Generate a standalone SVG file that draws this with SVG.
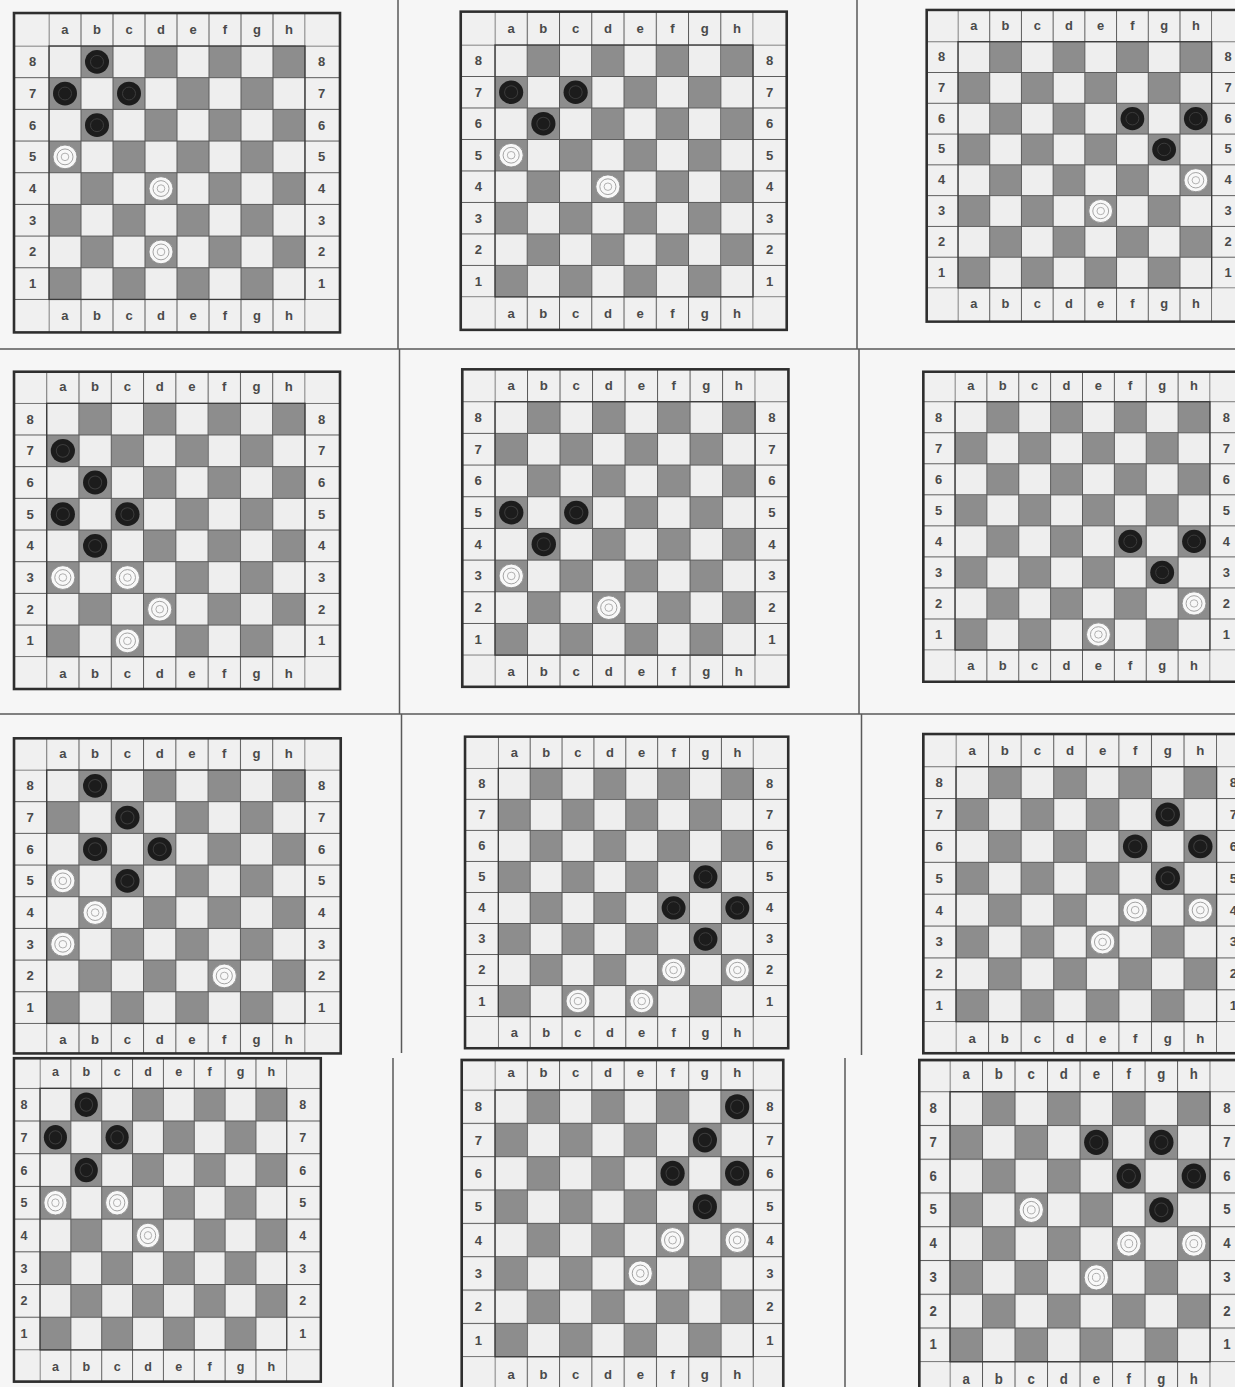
<svg xmlns="http://www.w3.org/2000/svg" xmlns:xlink="http://www.w3.org/1999/xlink" width="1235" height="1387" viewBox="0 0 1235 1387">
<style>
.fr{fill:#f0f0f0}
.frs{fill:none;stroke:#2e2e2e;stroke-width:2.6}
.hl{fill:url(#ph)}
.vl{fill:url(#pv)}
.bd{fill:none;stroke:#3a3a3a;stroke-width:1.3}
.dv{stroke:#5a5a5a;stroke-width:1.5;fill:none}
</style>
<defs>
<pattern id="chk" patternUnits="userSpaceOnUse" width="64" height="64"><rect width="64" height="64" fill="#eeeeee"/><rect x="32" width="32" height="32" fill="#8d8d8d"/><rect y="32" width="32" height="32" fill="#8d8d8d"/></pattern>
<pattern id="ph" patternUnits="userSpaceOnUse" x="0" y="-0.5" width="8" height="32"><rect width="8" height="1" fill="#5a5a5a"/></pattern>
<pattern id="pv" patternUnits="userSpaceOnUse" x="-0.5" y="0" width="32" height="8"><rect width="1" height="8" fill="#5a5a5a"/></pattern>
<g id="chkb"><rect width="256" height="256" fill="url(#chk)"/></g>
<g id="lbl" font-family="Liberation Sans, Arial, sans-serif" font-size="13" font-weight="bold" fill="#4a4a4a" text-anchor="middle" dominant-baseline="central">
<text x="16" y="-16.5">a</text><text x="48" y="-16.5">b</text><text x="80" y="-16.5">c</text><text x="112" y="-16.5">d</text><text x="144" y="-16.5">e</text><text x="176" y="-16.5">f</text><text x="208" y="-16.5">g</text><text x="240" y="-16.5">h</text>
<text x="16" y="272.5">a</text><text x="48" y="272.5">b</text><text x="80" y="272.5">c</text><text x="112" y="272.5">d</text><text x="144" y="272.5">e</text><text x="176" y="272.5">f</text><text x="208" y="272.5">g</text><text x="240" y="272.5">h</text>
<text x="-16.5" y="16">8</text><text x="-16.5" y="48">7</text><text x="-16.5" y="80">6</text><text x="-16.5" y="112">5</text><text x="-16.5" y="144">4</text><text x="-16.5" y="176">3</text><text x="-16.5" y="208">2</text><text x="-16.5" y="240">1</text>
<text x="272.5" y="16">8</text><text x="272.5" y="48">7</text><text x="272.5" y="80">6</text><text x="272.5" y="112">5</text><text x="272.5" y="144">4</text><text x="272.5" y="176">3</text><text x="272.5" y="208">2</text><text x="272.5" y="240">1</text>
</g>
<g id="bk"><circle r="12" fill="#1c1c1c"/><circle r="6.5" fill="none" stroke="#3c3c3c" stroke-width="1"/></g>
<g id="wh"><circle r="12" fill="#f8f8f8" stroke="#8a8a8a" stroke-width="0.9"/><circle r="8" fill="none" stroke="#999999" stroke-width="0.9"/><circle r="3.8" fill="none" stroke="#a8a8a8" stroke-width="0.9"/></g>
</defs>
<rect width="1235" height="1387" fill="#f6f6f6"/>
<g id="connectors">
<path class="dv" d="M0 349H1235M0 714H1235M398 0V349M857 0V349M399.5 349V714M859 349V714M401.5 714V1053M861.5 714V1055M393 1058V1387M845 1058V1387"/>
</g>

<g id="board-1" transform="translate(49,46) scale(1,0.99)">
<rect class="fr" x="-35" y="-33.3" width="326" height="322.6"/>
<use href="#chkb"/>
<rect class="hl" x="-35" y="-0.5" width="326" height="257"/>
<rect class="vl" x="-0.5" y="-33.3" width="257" height="322.6"/>
<rect class="bd" width="256" height="256"/>
<rect class="frs" x="-35" y="-33.3" width="326" height="322.6"/>
<use href="#lbl"/>
<use href="#bk" x="48" y="16"/><use href="#bk" x="16" y="48"/><use href="#bk" x="80" y="48"/><use href="#bk" x="48" y="80"/>
<use href="#wh" x="16" y="112"/><use href="#wh" x="112" y="144"/><use href="#wh" x="112" y="208"/>
</g>

<g id="board-2" transform="translate(495,45) scale(1.008,0.984)">
<rect class="fr" x="-34" y="-33.9" width="323.4" height="323.4"/>
<use href="#chkb"/>
<rect class="hl" x="-34" y="-0.5" width="323.4" height="257"/>
<rect class="vl" x="-0.5" y="-33.9" width="257" height="323.4"/>
<rect class="bd" width="256" height="256"/>
<rect class="frs" x="-34" y="-33.9" width="323.4" height="323.4"/>
<use href="#lbl"/>
<use href="#bk" x="16" y="48"/><use href="#bk" x="80" y="48"/><use href="#bk" x="48" y="80"/>
<use href="#wh" x="16" y="112"/><use href="#wh" x="112" y="144"/>
</g>

<g id="board-3" transform="translate(958,41.7) scale(0.991,0.962)">
<rect class="fr" x="-31.6" y="-33" width="321.6" height="324"/>
<use href="#chkb"/>
<rect class="hl" x="-31.6" y="-0.5" width="321.6" height="257"/>
<rect class="vl" x="-0.5" y="-33" width="257" height="324"/>
<rect class="bd" width="256" height="256"/>
<rect class="frs" x="-31.6" y="-33" width="321.6" height="324"/>
<use href="#lbl"/>
<use href="#bk" x="176" y="80"/><use href="#bk" x="240" y="80"/><use href="#bk" x="208" y="112"/>
<use href="#wh" x="240" y="144"/><use href="#wh" x="144" y="176"/>
</g>

<g id="board-4" transform="translate(46.7,403.3) scale(1.009,0.99)">
<rect class="fr" x="-32.4" y="-31.9" width="323.1" height="320.5"/>
<use href="#chkb"/>
<rect class="hl" x="-32.4" y="-0.5" width="323.1" height="257"/>
<rect class="vl" x="-0.5" y="-31.9" width="257" height="320.5"/>
<rect class="bd" width="256" height="256"/>
<rect class="frs" x="-32.4" y="-31.9" width="323.1" height="320.5"/>
<use href="#lbl"/>
<use href="#bk" x="16" y="48"/><use href="#bk" x="48" y="80"/><use href="#bk" x="16" y="112"/><use href="#bk" x="80" y="112"/><use href="#bk" x="48" y="144"/>
<use href="#wh" x="16" y="176"/><use href="#wh" x="80" y="176"/><use href="#wh" x="112" y="208"/><use href="#wh" x="80" y="240"/>
</g>

<g id="board-5" transform="translate(495,401.7) scale(1.016,0.99)">
<rect class="fr" x="-32.2" y="-32.7" width="321" height="320.7"/>
<use href="#chkb"/>
<rect class="hl" x="-32.2" y="-0.5" width="321" height="257"/>
<rect class="vl" x="-0.5" y="-32.7" width="257" height="320.7"/>
<rect class="bd" width="256" height="256"/>
<rect class="frs" x="-32.2" y="-32.7" width="321" height="320.7"/>
<use href="#lbl"/>
<use href="#bk" x="16" y="112"/><use href="#bk" x="80" y="112"/><use href="#bk" x="48" y="144"/>
<use href="#wh" x="16" y="176"/><use href="#wh" x="112" y="208"/>
</g>

<g id="board-6" transform="translate(955,401.7) scale(0.996,0.97)">
<rect class="fr" x="-31.8" y="-30.9" width="321.8" height="319.6"/>
<use href="#chkb"/>
<rect class="hl" x="-31.8" y="-0.5" width="321.8" height="257"/>
<rect class="vl" x="-0.5" y="-30.9" width="257" height="319.6"/>
<rect class="bd" width="256" height="256"/>
<rect class="frs" x="-31.8" y="-30.9" width="321.8" height="319.6"/>
<use href="#lbl"/>
<use href="#bk" x="176" y="144"/><use href="#bk" x="240" y="144"/><use href="#bk" x="208" y="176"/>
<use href="#wh" x="240" y="208"/><use href="#wh" x="144" y="240"/>
</g>

<g id="board-7" transform="translate(46.7,770) scale(1.009,0.99)">
<rect class="fr" x="-32.4" y="-32" width="323.8" height="318.3"/>
<use href="#chkb"/>
<rect class="hl" x="-32.4" y="-0.5" width="323.8" height="257"/>
<rect class="vl" x="-0.5" y="-32" width="257" height="318.3"/>
<rect class="bd" width="256" height="256"/>
<rect class="frs" x="-32.4" y="-32" width="323.8" height="318.3"/>
<use href="#lbl"/>
<use href="#bk" x="48" y="16"/><use href="#bk" x="80" y="48"/><use href="#bk" x="48" y="80"/><use href="#bk" x="112" y="80"/><use href="#bk" x="80" y="112"/>
<use href="#wh" x="16" y="112"/><use href="#wh" x="48" y="144"/><use href="#wh" x="16" y="176"/><use href="#wh" x="176" y="208"/>
</g>

<g id="board-8" transform="translate(498.3,768.3) scale(0.996,0.97)">
<rect class="fr" x="-33.4" y="-32.6" width="324.5" height="321.2"/>
<use href="#chkb"/>
<rect class="hl" x="-33.4" y="-0.5" width="324.5" height="257"/>
<rect class="vl" x="-0.5" y="-32.6" width="257" height="321.2"/>
<rect class="bd" width="256" height="256"/>
<rect class="frs" x="-33.4" y="-32.6" width="324.5" height="321.2"/>
<use href="#lbl"/>
<use href="#bk" x="208" y="112"/><use href="#bk" x="176" y="144"/><use href="#bk" x="240" y="144"/><use href="#bk" x="208" y="176"/>
<use href="#wh" x="176" y="208"/><use href="#wh" x="240" y="208"/><use href="#wh" x="80" y="240"/><use href="#wh" x="144" y="240"/>
</g>

<g id="board-9" transform="translate(956,766.7) scale(1.018,0.996)">
<rect class="fr" x="-32.1" y="-32.8" width="322.1" height="320.5"/>
<use href="#chkb"/>
<rect class="hl" x="-32.1" y="-0.5" width="322.1" height="257"/>
<rect class="vl" x="-0.5" y="-32.8" width="257" height="320.5"/>
<rect class="bd" width="256" height="256"/>
<rect class="frs" x="-32.1" y="-32.8" width="322.1" height="320.5"/>
<use href="#lbl"/>
<use href="#bk" x="208" y="48"/><use href="#bk" x="176" y="80"/><use href="#bk" x="240" y="80"/><use href="#bk" x="208" y="112"/>
<use href="#wh" x="176" y="144"/><use href="#wh" x="240" y="144"/><use href="#wh" x="144" y="176"/>
</g>

<g id="board-10" transform="translate(40,1088.3) scale(0.964,1.022)">
<rect class="fr" x="-27" y="-29.4" width="318.3" height="316.4"/>
<use href="#chkb"/>
<rect class="hl" x="-27" y="-0.5" width="318.3" height="257"/>
<rect class="vl" x="-0.5" y="-29.4" width="257" height="316.4"/>
<rect class="bd" width="256" height="256"/>
<rect class="frs" x="-27" y="-29.4" width="318.3" height="316.4"/>
<use href="#lbl"/>
<use href="#bk" x="48" y="16"/><use href="#bk" x="16" y="48"/><use href="#bk" x="80" y="48"/><use href="#bk" x="48" y="80"/>
<use href="#wh" x="16" y="112"/><use href="#wh" x="80" y="112"/><use href="#wh" x="112" y="144"/>
</g>

<g id="board-11" transform="translate(495,1090) scale(1.009,1.042)">
<rect class="fr" x="-33" y="-28.8" width="318.7" height="316.8"/>
<use href="#chkb"/>
<rect class="hl" x="-33" y="-0.5" width="318.7" height="257"/>
<rect class="vl" x="-0.5" y="-28.8" width="257" height="316.8"/>
<rect class="bd" width="256" height="256"/>
<rect class="frs" x="-33" y="-28.8" width="318.7" height="316.8"/>
<use href="#lbl"/>
<use href="#bk" x="240" y="16"/><use href="#bk" x="208" y="48"/><use href="#bk" x="176" y="80"/><use href="#bk" x="240" y="80"/><use href="#bk" x="208" y="112"/>
<use href="#wh" x="176" y="144"/><use href="#wh" x="240" y="144"/><use href="#wh" x="144" y="176"/>
</g>

<g id="board-12" transform="translate(950,1091.7) scale(1.016,1.055)">
<rect class="fr" x="-30.2" y="-30" width="320.2" height="318"/>
<use href="#chkb"/>
<rect class="hl" x="-30.2" y="-0.5" width="320.2" height="257"/>
<rect class="vl" x="-0.5" y="-30" width="257" height="318"/>
<rect class="bd" width="256" height="256"/>
<rect class="frs" x="-30.2" y="-30" width="320.2" height="318"/>
<use href="#lbl"/>
<use href="#bk" x="144" y="48"/><use href="#bk" x="208" y="48"/><use href="#bk" x="176" y="80"/><use href="#bk" x="240" y="80"/><use href="#bk" x="208" y="112"/>
<use href="#wh" x="80" y="112"/><use href="#wh" x="176" y="144"/><use href="#wh" x="240" y="144"/><use href="#wh" x="144" y="176"/>
</g>
</svg>
